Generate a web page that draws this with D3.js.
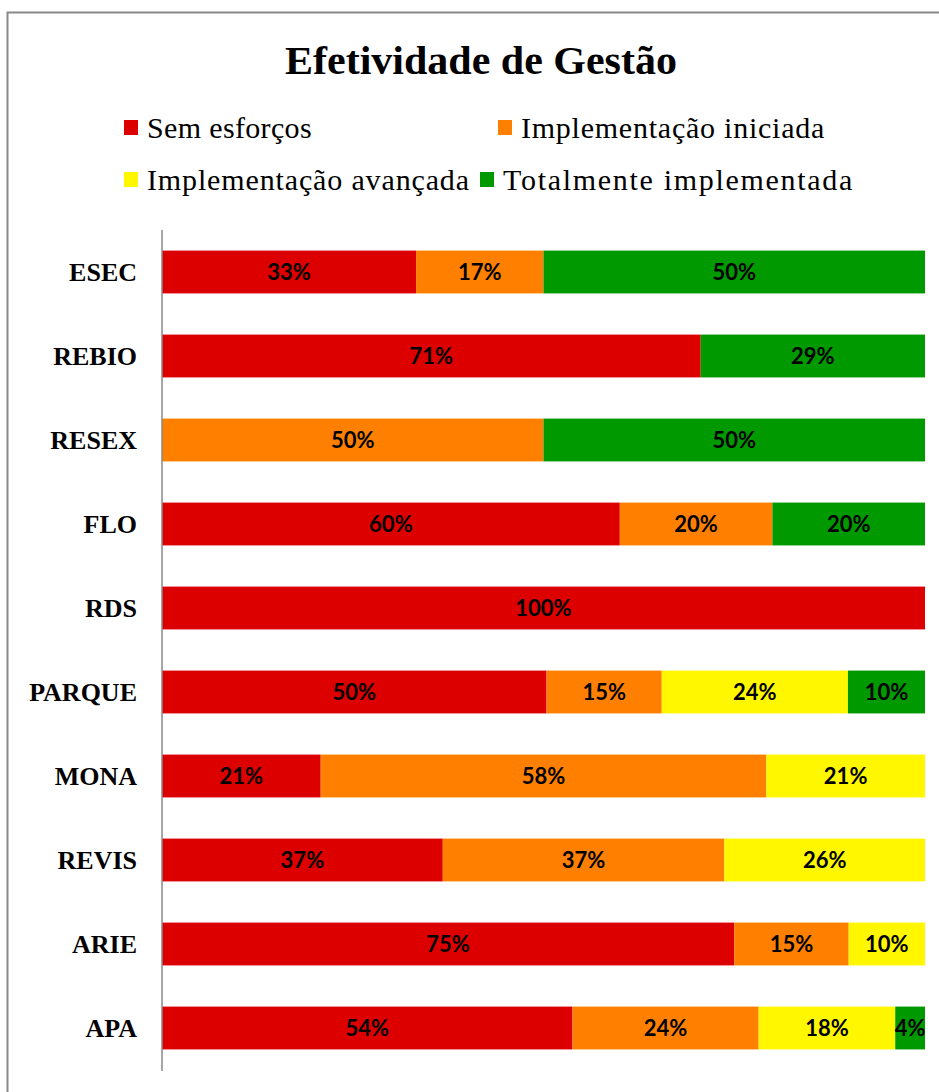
<!DOCTYPE html>
<html><head><meta charset="utf-8">
<script src="https://cdn.jsdelivr.net/npm/d3@7"></script>
<style>body{margin:0;background:#fff}svg{display:block}</style>
</head><body>
<svg id="c" width="939" height="1092"></svg>
<script>
const title = "Efetividade de Gestão";
const categories = ["ESEC","REBIO","RESEX","FLO","RDS","PARQUE","MONA","REVIS","ARIE","APA"];
const seriesNames = ["Sem esforços","Implementação iniciada","Implementação avançada","Totalmente implementada"];
const seriesColors = ["#dd0000","#ff8000","#fff700","#009900"];
// values in percent, per series, aligned with categories
const semEsforcos      = [33.3, 70.6, 0,   60, 100, 50.4, 20.8, 36.8, 75, 53.8];
const implIniciada     = [16.7, 0,    50,  20, 0,   15.1, 58.4, 36.9, 15, 24.4];
const implAvancada     = [0,    0,    0,   0,  0,   24.4, 20.8, 26.3, 10, 17.9];
const totalImplementada= [50,   29.4, 50,  20, 0,   10.1, 0,    0,    0,  3.9];
const xTicks = [0, 100];

const series = [semEsforcos, implIniciada, implAvancada, totalImplementada];
const rows = categories.map((c,i)=>{const o={cat:c}; seriesNames.forEach((s,j)=>o[s]=series[j][i]); return o;});
const stacked = d3.stack().keys(seriesNames)(rows);

const SERIF = "Liberation Serif";
const svg = d3.select("#c");
svg.append("rect").attr("x",7.5).attr("y",12.5).attr("width",1000).attr("height",1200)
  .attr("fill","#fff").attr("stroke","#888").attr("stroke-width",2);

const x = d3.scaleLinear().domain(d3.extent(xTicks)).range([162, 925]);
const y = d3.scaleBand().domain(categories).range([230, 1070]).paddingInner(0.49).paddingOuter(0.245);

// title
const t = svg.append("text").attr("x",0).attr("y",0).attr("text-anchor","middle")
  .attr("font-family",SERIF).attr("font-weight","bold").attr("font-size",40).text(title);
{
  const w = t.node().getComputedTextLength();
  t.attr("transform",`translate(481,74) scale(${392/w},1)`);
}

// legend
const legPos = [[124,128,165],[498,128,304],[124,180,323],[480,180,351]];
const leg = svg.append("g");
seriesNames.forEach((s,i)=>{
  const [lx,ly,tw]=legPos[i];
  leg.append("rect").attr("x",lx).attr("y",ly-8).attr("width",14).attr("height",15).attr("fill",seriesColors[i]);
  const lt = leg.append("text").attr("x",lx+23).attr("y",ly+10).attr("font-family",SERIF)
    .attr("font-size",30).text(s);
  const w = lt.node().getComputedTextLength();
  lt.attr("letter-spacing", ((tw - w) / s.length).toFixed(2));
});

// bars
const g = svg.append("g");
stacked.forEach((layer,j)=>{
  g.selectAll(null).data(layer.filter(d=>d[1]-d[0]>0)).join("rect")
    .attr("x",d=>x(d[0])).attr("width",d=>x(d[1])-x(d[0]))
    .attr("y",d=>y(d.data.cat)).attr("height",y.bandwidth()).attr("fill",seriesColors[j]);
});
const fmt = v=>Math.round(v)+"%";
stacked.forEach((layer,j)=>{
  g.selectAll(null).data(layer.filter(d=>d[1]-d[0]>0)).join("text")
    .attr("x",d=>(x(d[0])+x(d[1]))/2).attr("y",d=>y(d.data.cat)+y.bandwidth()/2+8)
    .attr("text-anchor","middle").attr("font-family","Lato").attr("font-weight","bold")
    .attr("font-size",22).attr("fill","#000")
    .text(d=>fmt(d[1]-d[0]));
});

// y axis
const yAxis = d3.axisLeft(y).tickSize(0).tickPadding(25);
const ya = svg.append("g").attr("transform","translate(162,0)").call(yAxis);
ya.select(".domain").attr("stroke","#888").attr("stroke-width",1.5).attr("d","M0,230V1071");
ya.selectAll("text").attr("font-family",SERIF).attr("font-weight","bold")
  .attr("font-size",26).attr("fill","#000").attr("dy","0.35em");
</script>
</body></html>
